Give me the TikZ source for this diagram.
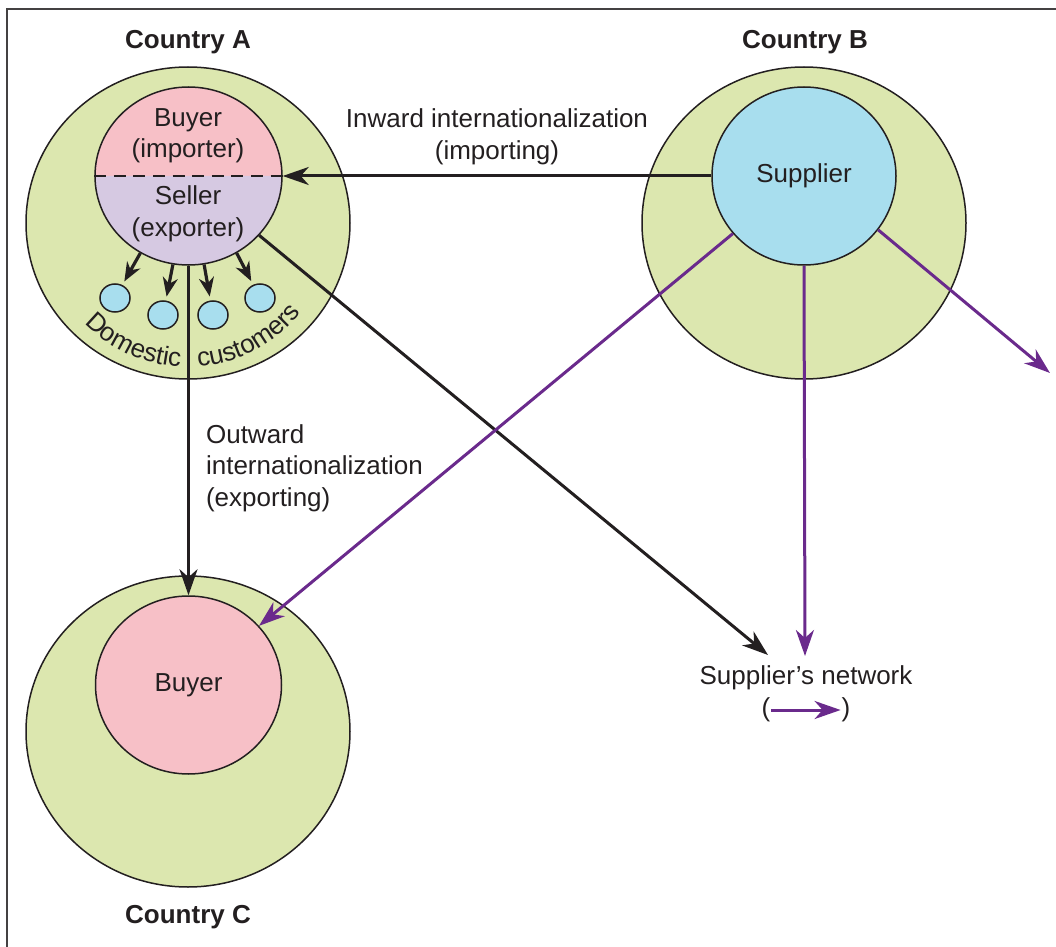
\documentclass[tikz,border=0pt]{standalone}
\usepackage{fontspec}
\setmainfont{Liberation Sans}
\usetikzlibrary{shapes.geometric,arrows.meta,decorations.text}
\definecolor{encre}{RGB}{35,31,32}
\definecolor{vert}{RGB}{220,231,175}
\definecolor{rose}{RGB}{247,192,199}
\definecolor{lavande}{RGB}{214,201,226}
\definecolor{bleu}{RGB}{168,222,238}
\definecolor{pourpre}{RGB}{106,42,140}
\newcommand{\taille}{\fontsize{13}{15.75}\selectfont}
\tikzset{
  pays/.style={ellipse, draw=encre, line width=0.75pt, fill=vert,
    minimum width=162pt, minimum height=156pt, inner sep=0pt},
  acteur/.style={ellipse, draw=encre, line width=0.75pt,
    minimum width=93pt, minimum height=89pt, inner sep=0pt},
  client/.style={ellipse, draw=encre, line width=0.75pt, fill=bleu,
    minimum width=15pt, minimum height=14pt, inner sep=0pt},
  titre/.style={font=\bfseries\taille, text=encre},
  fleche/.style={-{Stealth[length=13pt,width=9pt,inset=4pt]}, line width=1.5pt, draw=encre},
  petitefleche/.style={-{Stealth[length=9.5pt,width=7.5pt,inset=3pt]}, line width=1.6pt, draw=encre, shorten >=2pt},
  flechepourpre/.style={fleche, draw=pourpre, fill=pourpre},
}
\begin{document}
\begin{tikzpicture}[x=0.5pt, y=-0.5pt, font=\taille, text=encre]
        \useasboundingbox (0,0) rectangle (1056,947);

        % cadre
        \draw[line width=0.75pt, encre!85] (7,947) -- (7,9) -- (1056,9);

        % pays
        \node[pays] (pa) at (188,223) {};
        \node[pays] (pb) at (804,223) {};
        \node[pays, minimum height=155.5pt] (pc) at (188,731.5) {};
        \node[titre] (ta) at (188,42) {Country A};
        \node[titre] (tb) at (805,42) {Country B};
        \node[titre] (tc) at (188,917) {Country C};

        % acheteur / vendeur dans A
        \fill[rose] (95,176) arc[start angle=180, end angle=360, x radius=93.5, y radius=89] -- cycle;
        \fill[lavande] (95,176) arc[start angle=180, end angle=0, x radius=93.5, y radius=89] -- cycle;
        \node[acteur, minimum width=93.5pt] (ia) at (188.5,176) {};
        \draw[encre, line width=0.65pt, dash pattern=on 6pt off 3.8pt] (ia.west) -- (ia.east);
        \node[align=center] (acheteur) at (188,136) {Buyer\\(importer)};
        \node[align=center] (vendeur) at (188,214) {Seller\\(exporter)};

        % fournisseur et acheteur de C
        \node[acteur, fill=bleu, minimum width=92pt] (sup) at (804,176) {Supplier};
        \node[acteur, fill=rose] (bc) at (188.5,685) {Buyer};

        % clients domestiques
        \node[client] (c1) at (115,298) {};
        \node[client] (c2) at (163,315) {};
        \node[client] (c3) at (213,315) {};
        \node[client] (c4) at (260,298) {};
        \draw[petitefleche] (ia.238) -- (c1);
        \draw[petitefleche] (ia.260) -- (c2);
        \draw[petitefleche] (ia.280) -- (c3);
        \draw[petitefleche] (ia.302) -- (c4);
        \path[decorate, decoration={text along path, text align=right,
            text={|\taille\color{encre}|Domestic}}]
            ([shift={(150:144)}]188,223) arc[start angle=150, end angle=93, radius=144];
        \path[decorate, decoration={text along path, text align=left,
            text={|\taille\color{encre}|customers}}]
            ([shift={(86:144)}]188,223) arc[start angle=86, end angle=25, radius=144];

        % réseau du fournisseur
        \node[align=center] (reseau) at (806,678) {Supplier’s network};
        \node (pg) at (766,710) {(};
        \node (pd) at (846,710) {)};
        \draw[flechepourpre, shorten <=-3pt, shorten >=-3pt] (pg) -- (pd);
        \coordinate (rx) at (768,655);
        \coordinate (ry) at (805,656);
        \coordinate (fuite) at (1050,373);

        % flux
        \draw[fleche] (sup.west) -- (ia.east);
        \node[align=center] (inward) at (497,137) {Inward internationalization\\(importing)};
        \draw[fleche] (ia.south) -- (bc.north);
        \node[align=left, anchor=west] (outward) at (199,468) {Outward\\internationalization\\(exporting)};
        \draw[fleche] (ia.320) -- (rx);
        \draw[flechepourpre] (sup.219) -- (bc.40);
        \draw[flechepourpre] (sup.south) -- (ry);
        \draw[flechepourpre] (sup.324) -- (fuite);

\end{tikzpicture}
\end{document}
